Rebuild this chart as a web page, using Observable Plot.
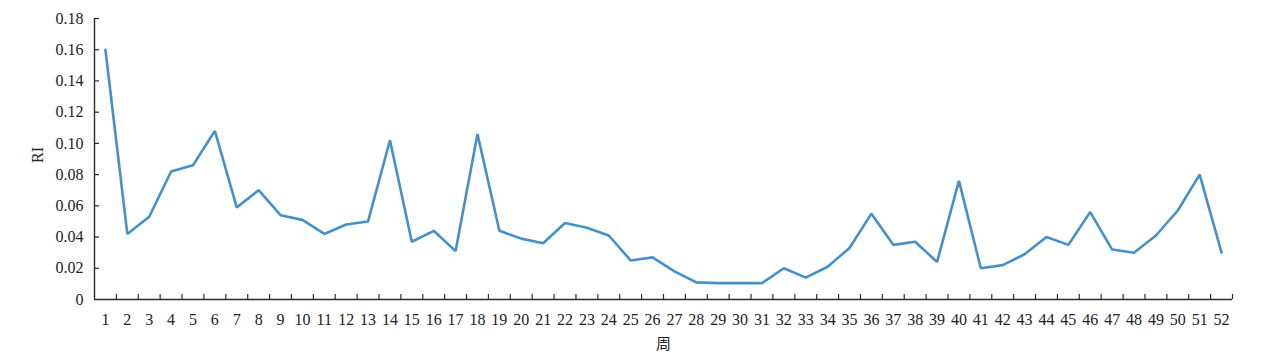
<!DOCTYPE html>
<html>
<head>
<meta charset="utf-8">
<script src="https://cdn.jsdelivr.net/npm/d3@7"></script>
<script src="https://cdn.jsdelivr.net/npm/@observablehq/plot@0.6"></script>
<style>
  html, body { margin: 0; padding: 0; background: #fff; }
  svg { display: block; }
</style>
</head>
<body>
<div id="chart"></div>
<script>
const weeks = d3.range(1, 53);
const riValues = [
  0.160, 0.042, 0.053, 0.082, 0.086, 0.108, 0.059, 0.070, 0.054, 0.051,
  0.042, 0.048, 0.050, 0.102, 0.037, 0.044, 0.031, 0.106, 0.044, 0.039,
  0.036, 0.049, 0.046, 0.041, 0.025, 0.027, 0.018, 0.011, 0.0105, 0.0105,
  0.0105, 0.020, 0.014, 0.021, 0.033, 0.055, 0.035, 0.037, 0.024, 0.076,
  0.020, 0.022, 0.029, 0.040, 0.035, 0.056, 0.032, 0.030, 0.041, 0.057,
  0.080, 0.030
];
const yTicks = [0, 0.02, 0.04, 0.06, 0.08, 0.10, 0.12, 0.14, 0.16, 0.18];
const xLabel = "周";
const yLabel = "RI";

const data = weeks.map((w, i) => ({week: w, ri: riValues[i]}));
const boundaries = weeks.map(w => w + 0.5);

const W = 1268, H = 363;
const mL = 94, mR = 36, mT = 18, mB = 64;
const innerW = W - mL - mR, innerH = H - mT - mB;
const axisColor = "#2b2b2b";

const chart = Plot.plot({
  width: W,
  height: H,
  marginLeft: mL,
  marginRight: mR,
  marginTop: mT,
  marginBottom: mB,
  style: {fontFamily: "'Liberation Serif', 'DejaVu Serif', serif", fontSize: "16px", color: "#222", background: "#fff"},
  x: {domain: [0.5, 52.5], axis: null},
  y: {domain: [0, 0.18], axis: null},
  marks: [
    Plot.axisY(yTicks, {label: null, tickSize: 0, tickPadding: 11, tickFormat: d => d === 0 ? "0" : d.toFixed(2), fill: "#222"}),
    Plot.axisX(weeks, {label: null, tickSize: 0, tickPadding: 14, tickFormat: d => String(d), fill: "#222"}),
    Plot.tickY(yTicks.slice(1), {y: d => d, insetRight: innerW - 5, stroke: axisColor, strokeWidth: 1.2}),
    Plot.tickX(boundaries, {x: d => d, insetTop: innerH - 5, stroke: axisColor, strokeWidth: 1.2}),
    Plot.ruleX([0.5], {stroke: axisColor, strokeWidth: 1.4}),
    Plot.ruleY([0], {stroke: axisColor, strokeWidth: 1.4}),
    Plot.line(data, {x: "week", y: "ri", stroke: "#4590c8", strokeWidth: 2.6, strokeLinejoin: "miter"}),
    Plot.text([xLabel], {text: d => d, frameAnchor: "bottom", dy: 49, fontFamily: "'Noto Sans CJK SC', sans-serif", fontSize: 15, fill: "#222"}),
    Plot.text([yLabel], {text: d => d, frameAnchor: "left", dx: -57, dy: 4, rotate: -90, fontSize: 16, fill: "#222"})
  ]
});
document.getElementById("chart").appendChild(chart);
</script>
</body>
</html>
